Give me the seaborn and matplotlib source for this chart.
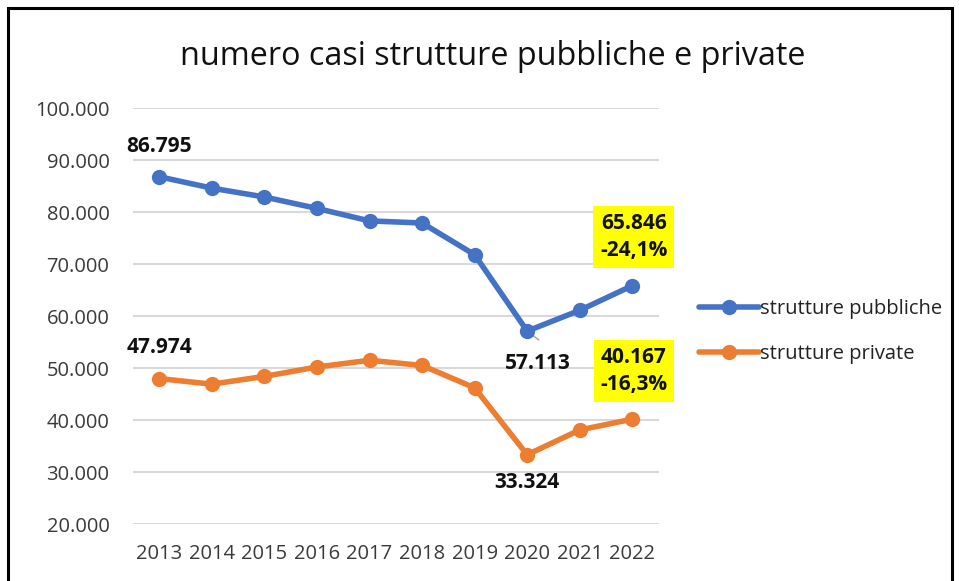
import matplotlib
matplotlib.use("Agg")
import matplotlib.pyplot as plt
import seaborn as sns
import pandas as pd
from matplotlib.patches import Rectangle
from matplotlib.lines import Line2D

years = ["2013", "2014", "2015", "2016", "2017", "2018", "2019", "2020", "2021", "2022"]
pubbliche = [86795, 84600, 82900, 80700, 78300, 77900, 71800, 57113, 61100, 65846]
private = [47974, 46900, 48400, 50200, 51500, 50500, 46200, 33324, 38100, 40167]
series_names = ["strutture pubbliche", "strutture private"]
yticks = [20000, 30000, 40000, 50000, 60000, 70000, 80000, 90000, 100000]
ytick_labels = ["20.000", "30.000", "40.000", "50.000", "60.000", "70.000", "80.000", "90.000", "100.000"]
title = "numero casi strutture pubbliche e private"
colors = ["#4472C4", "#ED7D31"]

df = pd.DataFrame({
    "anno": years * 2,
    "casi": pubbliche + private,
    "serie": [series_names[0]] * len(years) + [series_names[1]] * len(years),
})
df["x"] = list(range(len(years))) * 2

sns.set_theme(style="white")
plt.rcParams["font.family"] = ["Open Sans", "DejaVu Sans"]

fig = plt.figure(figsize=(9.59, 5.81), dpi=100)
ax = fig.add_axes([0.1387, 0.098, 0.548, 0.716])

sns.lineplot(data=df, x="x", y="casi", hue="serie", palette=colors, marker="o",
             markersize=11, markeredgewidth=0, linewidth=4, ax=ax, legend=False)

ax.set_xlim(-0.5, len(years) - 0.5)
ax.set_ylim(20000, 100000)
ax.set_yticks(yticks)
ax.set_yticklabels(ytick_labels, fontsize=14.5, color="#3a3a3a")
ax.set_xticks(range(len(years)))
ax.set_xticklabels(years, fontsize=14.5, color="#3a3a3a")
ax.tick_params(axis="y", length=0, pad=17)
ax.tick_params(axis="x", length=0, pad=14)
ax.set_xlabel("")
ax.set_ylabel("")
ax.grid(axis="y", color="#D9D9D9", linewidth=1.5)
ax.set_axisbelow(True)
for s in ax.spines.values():
    s.set_visible(False)

def fmt(v):
    return f"{v:,}".replace(",", ".")

lab = dict(fontsize=15, fontweight="bold", color="#111111", ha="center")
ax.text(0, pubbliche[0] + 5900, fmt(pubbliche[0]), va="center", **lab)
ax.text(0, private[0] + 5900, fmt(private[0]), va="center", **lab)
ax.text(7.2, pubbliche[7] - 6300, fmt(pubbliche[7]), va="center", **lab)
ax.text(7, private[7] - 5300, fmt(private[7]), va="center", **lab)
ax.plot([7, 7.22], [pubbliche[7], pubbliche[7] - 1700], color="#A0A0A0", linewidth=1, zorder=1)

pct_pub = (pubbliche[-1] / pubbliche[0] - 1) * 100
pct_pri = (private[-1] / private[0] - 1) * 100
def pct(v):
    return f"{v:.1f}%".replace(".", ",")

box = dict(boxstyle="square,pad=0.32", facecolor="#FFFF00", edgecolor="none")
ax.text(9.03, pubbliche[-1] + 9350, fmt(pubbliche[-1]) + "\n" + pct(pct_pub), va="center",
        linespacing=1.4, bbox=box, **lab)
ax.text(9.03, private[-1] + 9250, fmt(private[-1]) + "\n" + pct(pct_pri), va="center",
        linespacing=1.4, bbox=box, **lab)

fig.text(0.514, 0.902, title, ha="center", va="center", fontsize=23.3, color="#111111")

handles = [Line2D([0], [0], color=c, linewidth=4, marker="o", markersize=11, markeredgewidth=0) for c in colors]
fig.legend(handles, series_names, loc="center left", bbox_to_anchor=(0.71, 0.429),
           frameon=False, fontsize=14.5, handlelength=3.0, handletextpad=0.05,
           labelspacing=1.25, labelcolor="#222222")

fig.patches.append(Rectangle((8 / 959, -0.1), (952 - 8) / 959, 1.1 - 8 / 581,
                             transform=fig.transFigure, fill=False,
                             edgecolor="black", linewidth=2.2))

fig.savefig("out.png", dpi=100)
